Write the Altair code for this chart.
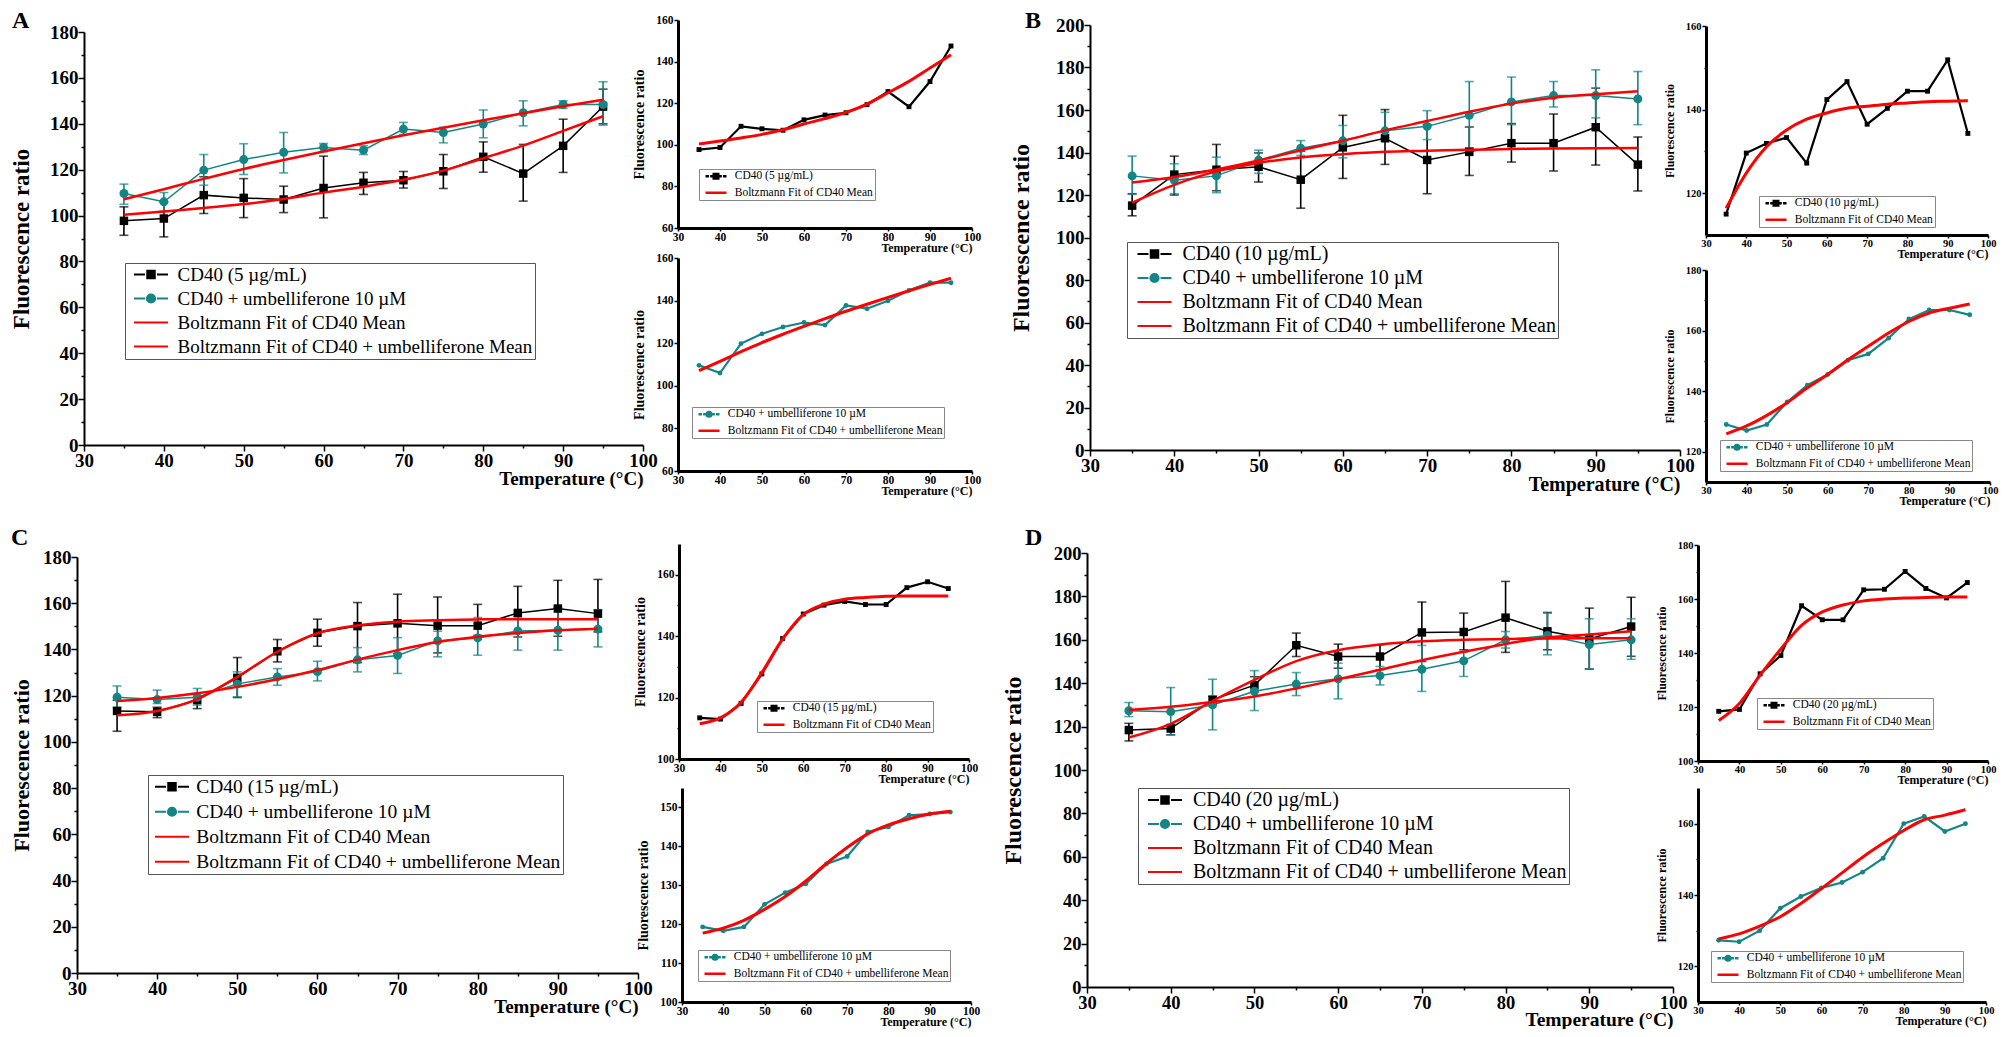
import altair as alt
import pandas as pd

SERIF = "Liberation Serif"
BLACK = "#000000"
TEAL = "#138585"
RED = "#ff0000"
W, H = 1991, 1021

TEMPS = [35, 40, 45, 50, 55, 60, 65, 70, 75, 80, 85, 90, 95]

# panel A, CD40 5 ug/mL
A_CD40 = [97.7, 98.7, 108.9, 107.7, 107.0, 112.0, 114.3, 115.4, 119.3, 125.6, 118.3, 130.4, 147.5]
A_CD40_HI = [103.8, 106.0, 116.9, 116.1, 112.8, 125.9, 118.8, 119.2, 126.6, 132.1, 131.0, 142.0, 155.1]
A_CD40_LO = [91.4, 90.7, 100.9, 99.1, 101.3, 99.0, 109.2, 112.0, 111.8, 118.9, 106.3, 118.8, 140.0]
A_UMB = [109.6, 106.0, 119.8, 124.4, 127.6, 129.7, 128.5, 137.7, 136.2, 139.9, 144.8, 148.4, 148.4]
A_UMB_HI = [113.7, 110.0, 126.6, 131.3, 136.2, 131.4, 130.4, 140.6, 138.5, 146.0, 150.0, 150.0, 158.3]
A_UMB_LO = [104.9, 101.9, 113.2, 117.9, 118.6, 127.8, 126.6, 135.3, 131.7, 133.9, 139.1, 146.7, 139.4]
A_FIT_CD40 = [100.4, 101.8, 103.3, 105.0, 107.2, 110.0, 112.6, 115.6, 119.6, 125.0, 130.5, 136.9, 143.3]
A_FIT_UMB = [107.1, 111.5, 116.0, 120.3, 124.2, 127.9, 131.5, 135.0, 138.3, 141.5, 144.6, 147.6, 150.5]

# panel B, CD40 10 ug/mL
B_CD40 = [115.0, 129.6, 131.9, 133.3, 127.2, 142.4, 146.7, 136.5, 140.3, 144.4, 144.4, 151.9, 134.3]
B_CD40_HI = [120.6, 138.3, 143.8, 139.8, 140.6, 157.5, 160.2, 153.1, 152.0, 153.6, 158.1, 170.3, 147.3]
B_CD40_LO = [110.2, 120.0, 122.0, 126.1, 113.8, 127.8, 134.4, 120.6, 129.2, 135.5, 131.3, 134.1, 121.9]
B_UMB = [129.0, 127.0, 129.0, 136.4, 142.0, 145.5, 150.2, 152.3, 157.5, 163.8, 166.8, 166.8, 165.2]
B_UMB_HI = [138.3, 134.7, 137.8, 141.1, 145.6, 152.7, 158.9, 159.7, 173.4, 175.5, 173.4, 178.9, 178.1]
B_UMB_LO = [120.3, 120.6, 121.1, 130.2, 138.6, 137.5, 146.9, 146.1, 142.2, 153.1, 161.4, 156.3, 153.1]
B_FIT_CD40 = [116.4, 124.8, 131.1, 135.1, 137.7, 139.2, 140.3, 140.8, 141.3, 141.6, 141.9, 142.0, 142.1]
B_FIT_UMB = [125.9, 128.5, 132.0, 136.2, 141.1, 145.5, 150.4, 154.8, 159.2, 163.0, 165.8, 167.4, 168.8]

# panel C, CD40 15 ug/mL
C_CD40 = [113.4, 113.0, 118.1, 127.7, 139.2, 147.2, 150.1, 151.3, 150.3, 150.3, 155.8, 157.7, 155.5]
C_CD40_HI = [118.0, 115.0, 120.9, 136.5, 144.3, 153.1, 160.3, 163.9, 162.7, 159.5, 167.3, 169.9, 170.3]
C_CD40_LO = [104.6, 110.5, 114.4, 119.2, 134.6, 141.4, 134.3, 138.2, 138.5, 146.1, 145.4, 145.7, 147.6]
C_UMB = [119.3, 118.3, 119.3, 125.1, 128.1, 130.4, 135.5, 137.4, 143.7, 145.0, 148.0, 148.3, 148.8]
C_UMB_HI = [124.2, 122.4, 123.1, 130.3, 131.7, 134.9, 140.8, 145.1, 147.9, 153.8, 154.1, 158.1, 157.2]
C_UMB_LO = [114.9, 116.6, 115.9, 119.5, 124.5, 126.4, 130.3, 129.6, 136.8, 137.5, 139.7, 139.7, 141.1]
C_FIT_CD40 = [111.5, 113.4, 118.5, 128.1, 139.0, 147.0, 150.4, 152.0, 152.6, 153.0, 153.1, 153.1, 153.1]
C_FIT_UMB = [117.7, 119.0, 121.0, 123.8, 127.1, 131.1, 135.6, 139.7, 143.2, 145.5, 147.1, 148.3, 149.0]

# panel D, CD40 20 ug/mL
D_CD40 = [118.4, 119.1, 132.3, 139.1, 157.5, 152.3, 152.3, 163.4, 163.6, 170.2, 163.9, 160.4, 166.1]
D_CD40_HI = [121.5, 121.0, 134.0, 143.0, 163.1, 158.0, 157.7, 177.4, 172.3, 186.9, 172.6, 174.6, 179.6]
D_CD40_LO = [113.4, 116.2, 130.5, 136.2, 152.3, 146.9, 146.2, 150.0, 155.4, 154.2, 155.4, 146.5, 152.4]
D_UMB = [127.3, 126.9, 130.0, 136.3, 139.6, 142.0, 143.5, 146.4, 150.3, 160.0, 162.0, 157.8, 160.0]
D_UMB_HI = [131.1, 138.0, 141.8, 145.8, 144.9, 149.2, 147.7, 157.4, 154.3, 163.8, 172.3, 169.7, 169.7]
D_UMB_LO = [124.6, 116.2, 118.5, 127.4, 134.3, 132.8, 139.2, 136.2, 143.1, 156.2, 153.1, 146.6, 151.0]
D_FIT_CD40 = [115.0, 121.3, 131.8, 141.5, 150.2, 155.2, 157.8, 159.3, 160.0, 160.4, 160.6, 160.7, 160.7]
D_FIT_UMB = [127.7, 129.1, 131.3, 133.9, 137.6, 141.8, 146.2, 150.6, 154.5, 158.1, 161.1, 162.4, 163.9]

UMB_LABEL = "CD40 + umbelliferone 10 µM"
FIT_CD40_LABEL = "Boltzmann Fit of CD40 Mean"
FIT_UMB_LABEL = "Boltzmann Fit of CD40 + umbelliferone Mean"

# legend glyphs (line - marker - line), as custom symbol paths
MAIN_SQUARE = "M-3.4,0H-1.2M1.2,0H3.4M-0.75,-0.75H0.75V0.75H-0.75Z"
MAIN_CIRCLE = "M-3.4,0H-1.2M1.2,0H3.4M-0.82,0A0.82,0.82 0 1,1 0.82,0A0.82,0.82 0 1,1 -0.82,0Z"
MAIN_LINE = "M-3.4,0H3.4"
INSET_SQUARE = "M-3.5,0H-2.35M-1.95,0H-1.1M1.1,0H1.95M2.35,0H3.5M-0.75,-0.75H0.75V0.75H-0.75Z"
INSET_CIRCLE = "M-3.5,0H-2.35M-1.95,0H-1.1M1.1,0H1.95M2.35,0H3.5M-0.75,0A0.75,0.75 0 1,1 0.75,0A0.75,0.75 0 1,1 -0.75,0Z"
INSET_LINE = "M-3.5,0H3.5"


def tick_size(step, big, small):
    return {"condition": {"test": f"datum.value % {step} == 0", "value": big}, "value": small}


def x_channel(box, tick_fs, title_fs, main):
    x0, x1, _, yb = box
    if main:
        extra = dict(values=list(range(30, 101, 5)), labelExpr="datum.value % 10 == 0 ? datum.label : ''",
                     tickSize=tick_size(10, 6, 3), domainWidth=2, titlePadding=-1)
    else:
        extra = dict(values=list(range(30, 101, 10)), tickSize=3, domainWidth=3, titlePadding=0)
    return alt.X(
        "T:Q", title="Temperature (°C)",
        scale=alt.Scale(domain=[30, 100], range=[x0, x1], nice=False, zero=False),
        axis=alt.Axis(
            orient="bottom", offset=yb - H, tickWidth=1.5, tickColor=BLACK, domainColor=BLACK, grid=False,
            labelFont=SERIF, labelFontSize=tick_fs, labelFontWeight="bold", labelColor=BLACK,
            labelPadding=0, labelOverlap=False, labelFlush=False,
            titleFont=SERIF, titleFontSize=title_fs, titleFontWeight="bold", titleColor=BLACK,
            titleAnchor="end", **extra,
        ),
    )


def y_channel(field, box, domain, values, step, tick_fs, title_fs, title_pad, main):
    x0, _, yt, yb = box
    return alt.Y(
        f"{field}:Q", title="Fluorescence ratio",
        scale=alt.Scale(domain=domain, range=[yb, yt], nice=False, zero=False),
        axis=alt.Axis(
            orient="left", offset=-x0, values=values,
            labelExpr=f"datum.value % {step} == 0 ? datum.label : ''",
            tickSize=tick_size(step, 6, 3) if main else tick_size(step, 4, 2),
            tickWidth=1.5, tickColor=BLACK, domainColor=BLACK, domainWidth=2 if main else 3, grid=False,
            labelFont=SERIF, labelFontSize=tick_fs, labelFontWeight="bold", labelColor=BLACK,
            labelPadding=0 if main else 1, labelOverlap=False, labelFlush=False,
            titleFont=SERIF, titleFontSize=title_fs, titleFontWeight="bold", titleColor=BLACK,
            titlePadding=title_pad,
        ),
    )


def legend_layer(names, colors, paths, leg):
    return (
        alt.Chart(pd.DataFrame({"series": names}))
        .transform_filter("false")
        .mark_point(filled=True, opacity=1)
        .encode(
            fill=alt.Fill("series:N", scale=alt.Scale(domain=names, range=colors), legend=leg),
            stroke=alt.Stroke("series:N", scale=alt.Scale(domain=names, range=colors), legend=leg),
            shape=alt.Shape("series:N", scale=alt.Scale(domain=names, range=paths), legend=leg),
        )
    )


def main_panel(p):
    frame = pd.DataFrame({
        "T": TEMPS,
        "cd40": p["cd40"], "cd40_hi": p["cd40_hi"], "cd40_lo": p["cd40_lo"],
        "umb": p["umb"], "umb_hi": p["umb_hi"], "umb_lo": p["umb_lo"],
        "fit_cd40": p["fit_cd40"], "fit_umb": p["fit_umb"],
    })
    box = p["box"]
    x = x_channel(box, p["tick_fs"], p["xtitle_fs"], True)

    def y(field):
        return y_channel(field, box, [0, p["ymax"]], list(range(0, p["ymax"] + 1, 10)), 20,
                         p["tick_fs"], p["ytitle_fs"], p["ytitle_pad"], True)

    base = alt.Chart(frame)
    err_cd40 = base.mark_errorbar(color=BLACK, thickness=1.6, ticks={"size": 9}).encode(
        x=x, y=y("cd40_lo"), y2=alt.Y2("cd40_hi"))
    err_umb = base.mark_errorbar(color=TEAL, thickness=1.6, ticks={"size": 9}).encode(
        x=x, y=y("umb_lo"), y2=alt.Y2("umb_hi"))
    line_cd40 = base.mark_line(color=BLACK, strokeWidth=1.5).encode(x=x, y=y("cd40"))
    line_umb = base.mark_line(color=TEAL, strokeWidth=1.5).encode(x=x, y=y("umb"))
    fit_cd40 = base.mark_line(color=RED, strokeWidth=2.5, interpolate="monotone").encode(x=x, y=y("fit_cd40"))
    fit_umb = base.mark_line(color=RED, strokeWidth=2.5, interpolate="monotone").encode(x=x, y=y("fit_umb"))
    pts_cd40 = base.mark_point(shape="square", filled=True, size=72, color=BLACK, opacity=1).encode(x=x, y=y("cd40"))
    pts_umb = base.mark_point(shape="circle", filled=True, size=80, color=TEAL, opacity=1).encode(x=x, y=y("umb"))

    names = [f"CD40 ({p['conc']} µg/mL)", UMB_LABEL, FIT_CD40_LABEL, FIT_UMB_LABEL]
    fs = p["leg_fs"]
    leg = alt.Legend(
        title=None, orient="none", legendX=p["leg"][0], legendY=p["leg"][1],
        labelFont=SERIF, labelFontSize=fs, labelColor=BLACK, labelLimit=1000,
        symbolSize=100, symbolOffset=p["leg"][2] - fs / 2 - 4.5, labelOffset=p["leg"][3] - fs - 20,
        symbolStrokeWidth=2, strokeColor="#555555", fillColor="white", padding=2, rowPadding=4,
    )
    legend = legend_layer(names, [BLACK, TEAL, RED, RED], [MAIN_SQUARE, MAIN_CIRCLE, MAIN_LINE, MAIN_LINE], leg)
    return alt.layer(err_cd40, err_umb, line_cd40, line_umb, pts_cd40, pts_umb, fit_cd40, fit_umb, legend)


def inset_panel(q):
    frame = pd.DataFrame({"T": TEMPS, "v": q["values"], "fit": q["fit"]})
    box = q["box"]
    x = x_channel(box, q["tick_fs"], 12, False)

    def y(field):
        return y_channel(field, box, q["ydomain"], q["yvalues"], q["step"], q["tick_fs"], q["ytitle_fs"], 9, False)

    base = alt.Chart(frame)
    line = base.mark_line(color=q["color"], strokeWidth=2.2).encode(x=x, y=y("v"))
    pts = base.mark_point(shape=q["shape"], filled=True, size=24, color=q["color"], opacity=1).encode(x=x, y=y("v"))
    fit = base.mark_line(color=RED, strokeWidth=3, interpolate="monotone").encode(x=x, y=y("fit"))

    leg = alt.Legend(
        title=None, orient="none", legendX=q["leg"][0], legendY=q["leg"][1],
        labelFont=SERIF, labelFontSize=11.5, labelColor=BLACK, labelLimit=1000,
        symbolSize=36, symbolOffset=9.75, labelOffset=13, symbolStrokeWidth=2.5,
        strokeColor="#888888", fillColor="white", padding=1.5, rowPadding=2.5,
    )
    legend = legend_layer([q["label"], q["fit_label"]], [q["color"], RED], [q["path"], INSET_LINE], leg)
    return alt.layer(line, pts, fit, legend)


def cd40_inset(conc, values, fit, **kw):
    return inset_panel(dict(values=values, fit=fit, color=BLACK, shape="square", path=INSET_SQUARE,
                            label=f"CD40 ({conc} µg/mL)", fit_label=FIT_CD40_LABEL, **kw))


def umb_inset(values, fit, **kw):
    return inset_panel(dict(values=values, fit=fit, color=TEAL, shape="circle", path=INSET_CIRCLE,
                            label=UMB_LABEL, fit_label=FIT_UMB_LABEL, **kw))


def letter(text, x, y):
    return (
        alt.Chart(pd.DataFrame({"s": [0]}))
        .mark_text(text=text, align="left", baseline="alphabetic", font=SERIF, fontSize=24,
                   fontWeight="bold", color=BLACK)
        .encode(x=alt.value(x), y=alt.value(y))
    )


# boxes are plot areas on the canvas: (left, right, top, bottom)
panels = [
    main_panel(dict(conc=5, cd40=A_CD40, cd40_hi=A_CD40_HI, cd40_lo=A_CD40_LO,
                    umb=A_UMB, umb_hi=A_UMB_HI, umb_lo=A_UMB_LO, fit_cd40=A_FIT_CD40, fit_umb=A_FIT_UMB,
                    box=(76, 635, 24, 437), ymax=180, tick_fs=19, xtitle_fs=19, ytitle_fs=23, ytitle_pad=16,
                    leg_fs=19, leg=(117, 255, 28.5, 56))),
    cd40_inset(5, A_CD40, A_FIT_CD40, box=(670, 964, 12, 220), ydomain=[60, 160],
               yvalues=list(range(60, 161, 20)), step=20, tick_fs=11.5, ytitle_fs=14, leg=(691, 161)),
    umb_inset(A_UMB, A_FIT_UMB, box=(670, 964, 250, 463), ydomain=[60, 160],
              yvalues=list(range(60, 161, 20)), step=20, tick_fs=11.5, ytitle_fs=14, leg=(684, 399)),

    main_panel(dict(conc=10, cd40=B_CD40, cd40_hi=B_CD40_HI, cd40_lo=B_CD40_LO,
                    umb=B_UMB, umb_hi=B_UMB_HI, umb_lo=B_UMB_LO, fit_cd40=B_FIT_CD40, fit_umb=B_FIT_UMB,
                    box=(1082, 1672, 17, 442), ymax=200, tick_fs=19, xtitle_fs=20, ytitle_fs=24, ytitle_pad=22,
                    leg_fs=20, leg=(1119, 234, 30, 58))),
    cd40_inset(10, B_CD40, B_FIT_CD40, box=(1698, 1980, 18, 227), ydomain=[110, 160],
               yvalues=list(range(120, 161, 10)), step=20, tick_fs=10.5, ytitle_fs=12, leg=(1751, 188)),
    umb_inset(B_UMB, B_FIT_UMB, box=(1698, 1982, 262, 474), ydomain=[110, 180],
              yvalues=list(range(120, 181, 10)), step=20, tick_fs=10.5, ytitle_fs=12, leg=(1712, 432)),

    main_panel(dict(conc=15, cd40=C_CD40, cd40_hi=C_CD40_HI, cd40_lo=C_CD40_LO,
                    umb=C_UMB, umb_hi=C_UMB_HI, umb_lo=C_UMB_LO, fit_cd40=C_FIT_CD40, fit_umb=C_FIT_UMB,
                    box=(69, 630, 549, 965), ymax=180, tick_fs=19, xtitle_fs=19, ytitle_fs=22, ytitle_pad=9,
                    leg_fs=19.5, leg=(140, 767, 26.5, 54))),
    cd40_inset(15, C_CD40, C_FIT_CD40, box=(671, 961, 536, 751), ydomain=[100, 170],
               yvalues=list(range(100, 161, 10)), step=20, tick_fs=11.5, ytitle_fs=14, leg=(749, 693)),
    umb_inset(C_UMB, C_FIT_UMB, box=(674, 963, 780, 994), ydomain=[100, 155],
              yvalues=list(range(100, 151, 10)), step=10, tick_fs=11.5, ytitle_fs=14, leg=(690, 942)),

    main_panel(dict(conc=20, cd40=D_CD40, cd40_hi=D_CD40_HI, cd40_lo=D_CD40_LO,
                    umb=D_UMB, umb_hi=D_UMB_HI, umb_lo=D_UMB_LO, fit_cd40=D_FIT_CD40, fit_umb=D_FIT_UMB,
                    box=(1079, 1665, 545, 979), ymax=200, tick_fs=18.5, xtitle_fs=19.5, ytitle_fs=24, ytitle_pad=28,
                    leg_fs=20, leg=(1130, 780, 29.5, 58))),
    cd40_inset(20, D_CD40, D_FIT_CD40, box=(1690, 1980, 537, 753), ydomain=[100, 180],
               yvalues=list(range(100, 181, 10)), step=20, tick_fs=10.5, ytitle_fs=12, leg=(1749, 690)),
    umb_inset(D_UMB, D_FIT_UMB, box=(1690, 1978, 780, 994), ydomain=[110, 170],
              yvalues=list(range(120, 161, 10)), step=20, tick_fs=10.5, ytitle_fs=12, leg=(1703, 943)),
]

letters = [letter("A", 4, 20), letter("B", 1017, 20), letter("C", 3, 537), letter("D", 1017, 537)]

chart = (
    alt.layer(*panels, *letters)
    .resolve_scale(x="independent", y="independent", fill="independent", stroke="independent", shape="independent")
    .properties(width=W, height=H, padding=0, autosize=alt.AutoSizeParams(type="none"))
    .configure(font=SERIF)
    .configure_view(stroke=None)
)

chart.save("out.html", embed_options={"renderer": "svg", "actions": False})
